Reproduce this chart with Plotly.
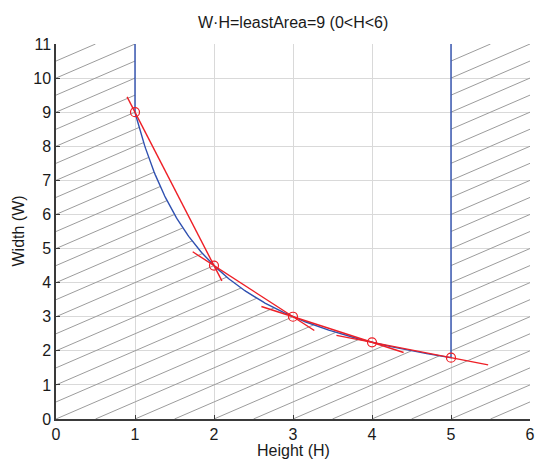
import numpy as np
import plotly.graph_objects as go

# ---- data ----
least_area = 9
heights = [1, 2, 3, 4, 5]                 # sample heights (H)
widths = [9, 4.5, 3, 2.25, 1.8]           # corresponding widths (W)
x_ticks = [0, 1, 2, 3, 4, 5, 6]
y_ticks = list(range(0, 12))
h_min, h_max = 1, 5                       # feasible H band
x_range = [0, 6]
y_range = [0, 11]
# extents (in H) of the red secant segments between consecutive points
sec_start = [0.90, 1.73, 2.60, 3.55]
sec_end = [2.10, 3.27, 4.40, 5.47]

title_text = "W·H=leastArea=9 (0<H<6)"
x_title = "Height (H)"
y_title = "Width (W)"

BLUE = "#2f50b0"
RED = "#ee1f26"
HATCH = "#9c9c9c"
FONT = "Liberation Sans, Arial, sans-serif"
TXT = "#1a1a1a"

fig = go.Figure()

# ---- hatch lines (y = x + c), clipped to the infeasible region ----
hx, hy = [], []
def add_seg(a, b, c):
    if b > a + 1e-9:
        hx.extend([a, b, None])
        hy.extend([a + c, b + c, None])

for c in np.arange(-6, 11.01, 0.5):
    add_seg(max(x_range[0], -c), min(h_min, y_range[1] - c), c)          # left strip
    xs = (-c + np.sqrt(c * c + 4 * least_area)) / 2                     # below curve
    add_seg(max(h_min, -c), min(h_max, xs), c)
    add_seg(max(h_max, -c), min(x_range[1], y_range[1] - c), c)          # right strip

fig.add_trace(go.Scatter(x=hx, y=hy, mode="lines",
                         line=dict(color=HATCH, width=1),
                         hoverinfo="skip", showlegend=False))

# ---- blue boundary ----
hc = np.linspace(h_min, h_max, 300)
bx = [h_min, h_min] + list(hc) + [h_max, h_max]
by = [y_range[1], least_area / h_min] + list(least_area / hc) + [least_area / h_max, y_range[1]]
fig.add_trace(go.Scatter(x=bx, y=by, mode="lines",
                         line=dict(color=BLUE, width=1.4),
                         hoverinfo="skip", showlegend=False))

# ---- red secant lines ----
rx, ry = [], []
for i in range(len(heights) - 1):
    x0, x1 = heights[i], heights[i + 1]
    y0, y1 = widths[i], widths[i + 1]
    s = (y1 - y0) / (x1 - x0)
    a, b = sec_start[i], sec_end[i]
    rx.extend([a, b, None])
    ry.extend([y0 + s * (a - x0), y0 + s * (b - x0), None])
fig.add_trace(go.Scatter(x=rx, y=ry, mode="lines",
                         line=dict(color=RED, width=1.4),
                         hoverinfo="skip", showlegend=False))

# ---- red open circles ----
fig.add_trace(go.Scatter(x=heights, y=widths, mode="markers",
                         marker=dict(symbol="circle-open", size=9,
                                     color=RED, line=dict(color=RED, width=1.2)),
                         showlegend=False))

axis_common = dict(
    showline=True, linecolor="#3a3a3a", linewidth=1.5,
    ticks="inside", ticklen=4, tickcolor="#3a3a3a", tickwidth=1,
    showgrid=True, gridcolor="#d9d9d9", gridwidth=1,
    zeroline=False, automargin=False,
    tickfont=dict(family=FONT, size=16, color=TXT),
)

fig.update_layout(
    width=537, height=461,
    margin=dict(l=56, r=7, t=44, b=42),
    paper_bgcolor="white", plot_bgcolor="white",
    font=dict(family=FONT, size=16, color=TXT),
    xaxis=dict(range=x_range, tickvals=x_ticks, **axis_common),
    yaxis=dict(range=y_range, tickvals=y_ticks, **axis_common),
    annotations=[
        dict(text=title_text, xref="paper", yref="paper", x=0.5, y=1,
             yshift=22, xanchor="center", yanchor="middle", showarrow=False,
             font=dict(family=FONT, size=16, color=TXT)),
        dict(text=x_title, xref="paper", yref="paper", x=0.5, y=0,
             yshift=-31, xanchor="center", yanchor="middle", showarrow=False,
             font=dict(family=FONT, size=16, color=TXT)),
        dict(text=y_title, xref="paper", yref="paper", x=0, y=0.5,
             xshift=-38, xanchor="center", yanchor="middle", showarrow=False,
             textangle=-90, font=dict(family=FONT, size=16, color=TXT)),
    ],
)

fig.write_html("out.html",
               config={"displayModeBar": False},
               post_script="document.body.style.margin='0';document.body.style.overflow='hidden';")
